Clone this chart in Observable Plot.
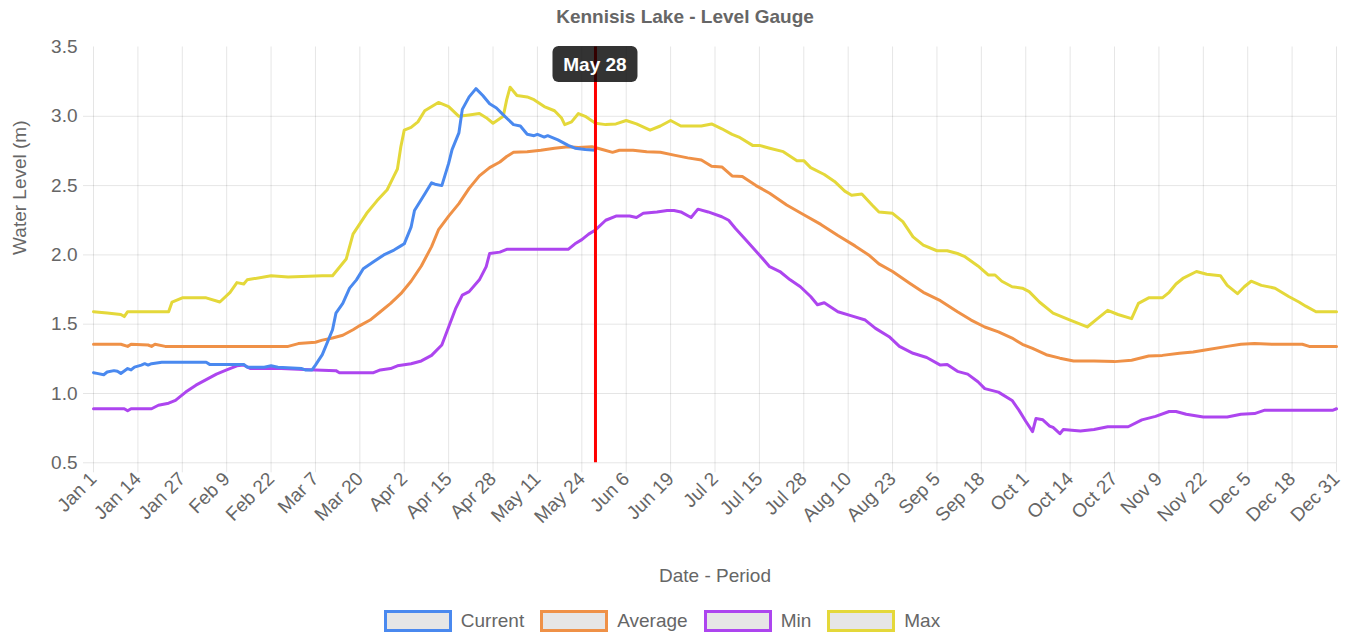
<!DOCTYPE html>
<html>
<head>
<meta charset="utf-8">
<script src="https://cdn.jsdelivr.net/npm/d3@7"></script>
<script src="https://cdn.jsdelivr.net/npm/@observablehq/plot@0.6"></script>
<style>
  html, body { margin: 0; padding: 0; background: #fff; }
  body { width: 1350px; height: 634px; overflow: hidden; position: relative;
         font-family: "Liberation Sans", Arial, sans-serif; color: #666; }
  #title { height: 34px; line-height: 34px; text-align: center; font-weight: bold;
           font-size: 19px; padding-left: 20px; box-sizing: border-box; }
  #chart svg { display: block; }
  #legend { position: absolute; top: 610px; left: 0; width: 1350px; padding-right: 26px;
            box-sizing: border-box; display: flex; justify-content: center; align-items: center;
            font-size: 19px; }
  .item { display: flex; align-items: center; margin: 0 8px; }
  .swatch { width: 68px; height: 22px; box-sizing: border-box; border: 3px solid; background: #e6e6e6; margin-right: 9px; }
</style>
</head>
<body>
<div id="title">Kennisis Lake - Level Gauge</div>
<div id="chart"></div>
<div id="legend"></div>
<script>
// ---- Data (day-of-year index, 0 = Jan 1) ----
const seriesNames = ["Current", "Average", "Min", "Max"];
const seriesColors = ["#4a89ef", "#ef9147", "#ad45ef", "#e4d83a"];

const currentDays = [0,1,3,4,6,7,8,10,11,12,14,15,16,17,20,33,34,44,45,50,52,54,61,62,64,65,67,68,70,71,73,75,77,79,82,85,88,90,91,93,94,97,99,100,102,104,105,107,108,110,112,114,116,118,120,123,125,127,129,130,132,133,136,139,141,144,147];
const currentLevels = [1.15,1.145,1.135,1.155,1.165,1.16,1.145,1.18,1.17,1.19,1.205,1.215,1.205,1.215,1.225,1.225,1.21,1.21,1.19,1.19,1.20,1.19,1.18,1.17,1.17,1.205,1.28,1.34,1.46,1.58,1.65,1.76,1.82,1.90,1.95,2.00,2.035,2.065,2.08,2.20,2.32,2.44,2.52,2.51,2.50,2.66,2.76,2.88,3.05,3.14,3.20,3.15,3.09,3.06,3.01,2.94,2.93,2.87,2.86,2.87,2.85,2.86,2.83,2.79,2.77,2.76,2.755];

const averageDays = [0,8,10,11,16,17,18,21,57,60,65,67,70,73,76,78,81,84,87,90,93,96,99,101,104,107,110,113,116,119,121,123,127,131,135,139,142,146,149,152,154,158,162,166,170,174,178,181,184,187,190,194,198,203,208,213,218,223,227,230,234,239,243,248,253,257,261,265,269,272,275,279,283,287,293,299,304,309,313,318,322,326,332,336,340,346,354,356,364];
const averageLevels = [1.355,1.355,1.34,1.355,1.35,1.34,1.355,1.34,1.34,1.36,1.37,1.385,1.40,1.42,1.46,1.49,1.53,1.59,1.65,1.72,1.81,1.92,2.06,2.18,2.28,2.37,2.48,2.57,2.63,2.67,2.71,2.74,2.745,2.755,2.77,2.78,2.775,2.78,2.76,2.74,2.755,2.755,2.745,2.74,2.72,2.70,2.685,2.64,2.635,2.57,2.565,2.50,2.445,2.36,2.29,2.22,2.14,2.065,2.00,1.935,1.88,1.795,1.73,1.67,1.59,1.53,1.48,1.445,1.40,1.355,1.325,1.28,1.255,1.235,1.235,1.23,1.24,1.27,1.275,1.29,1.30,1.315,1.34,1.355,1.36,1.355,1.355,1.34,1.34];

const minDays = [0,9,10,11,17,19,22,24,27,30,33,36,39,42,44,46,55,65,71,72,82,84,87,89,93,96,99,102,104,106,108,110,113,115,116,119,121,139,141,143,145,147,150,153,157,159,161,165,168,170,172,175,177,180,184,186,188,191,195,198,201,204,207,210,212,214,218,222,226,229,233,236,240,244,248,250,253,256,259,261,265,269,271,273,275,276,278,280,281,283,284,289,293,297,303,307,311,315,317,320,325,332,336,340,343,363,364];
const minLevels = [0.89,0.89,0.875,0.89,0.89,0.915,0.93,0.95,1.01,1.06,1.10,1.14,1.17,1.20,1.205,1.18,1.18,1.17,1.165,1.15,1.15,1.17,1.18,1.20,1.215,1.235,1.275,1.35,1.48,1.61,1.71,1.735,1.82,1.915,2.01,2.02,2.04,2.04,2.08,2.11,2.15,2.18,2.25,2.28,2.28,2.27,2.30,2.31,2.32,2.32,2.31,2.27,2.33,2.31,2.275,2.25,2.19,2.11,2.00,1.915,1.88,1.82,1.77,1.70,1.64,1.655,1.59,1.56,1.53,1.47,1.41,1.34,1.29,1.26,1.205,1.21,1.16,1.14,1.085,1.035,1.01,0.95,0.88,0.80,0.725,0.82,0.81,0.765,0.755,0.71,0.74,0.73,0.74,0.76,0.76,0.81,0.835,0.87,0.87,0.85,0.83,0.83,0.85,0.855,0.88,0.88,0.89];

const maxDays = [0,4,8,9,10,22,23,26,33,37,40,42,44,45,52,57,67,70,74,76,80,83,86,88,89,90,91,93,95,97,101,104,107,110,113,115,117,120,121,122,124,127,129,132,135,137,138,140,142,144,147,150,153,156,159,163,166,169,172,178,181,184,187,189,193,195,198,202,206,208,210,214,217,220,222,225,228,230,234,237,240,243,247,250,253,255,259,262,264,266,269,272,274,277,281,286,291,294,297,300,304,306,309,313,315,317,319,323,326,330,332,335,337,339,342,346,350,353,355,358,364];
const maxLevels = [1.59,1.58,1.57,1.555,1.59,1.59,1.66,1.69,1.69,1.66,1.73,1.80,1.79,1.82,1.85,1.84,1.85,1.85,1.97,2.15,2.30,2.39,2.47,2.57,2.62,2.78,2.90,2.92,2.96,3.04,3.10,3.07,3.00,3.01,3.02,2.99,2.95,3.00,3.12,3.21,3.15,3.14,3.12,3.07,3.04,2.99,2.94,2.96,3.02,3.00,2.95,2.94,2.945,2.97,2.945,2.90,2.93,2.97,2.93,2.93,2.945,2.91,2.87,2.85,2.79,2.79,2.77,2.745,2.68,2.68,2.63,2.58,2.53,2.46,2.43,2.44,2.36,2.31,2.30,2.24,2.13,2.07,2.03,2.03,2.01,1.99,1.92,1.855,1.855,1.81,1.77,1.76,1.735,1.66,1.58,1.53,1.48,1.54,1.60,1.57,1.54,1.65,1.69,1.69,1.73,1.79,1.83,1.88,1.86,1.85,1.78,1.72,1.77,1.81,1.78,1.76,1.70,1.66,1.63,1.59,1.59];

const tickLabels = ["Jan 1","Jan 14","Jan 27","Feb 9","Feb 22","Mar 7","Mar 20","Apr 2","Apr 15","Apr 28","May 11","May 24","Jun 6","Jun 19","Jul 2","Jul 15","Jul 28","Aug 10","Aug 23","Sep 5","Sep 18","Oct 1","Oct 14","Oct 27","Nov 9","Nov 22","Dec 5","Dec 18","Dec 31"];
const yTicks = [0.5, 1.0, 1.5, 2.0, 2.5, 3.0, 3.5];
const markerLabel = "May 28";
const yearRef = 2023;

// ---- Build ----
const toDate = d => new Date(Date.UTC(yearRef, 0, 1 + d));
const parseTick = d3.utcParse("%b %d %Y");
const tickDates = tickLabels.map(t => parseTick(t + " " + yearRef));
const markerDate = parseTick(markerLabel + " " + yearRef);
const fmt = d3.utcFormat("%b %-d");

const daysArr = [currentDays, averageDays, minDays, maxDays];
const levelsArr = [currentLevels, averageLevels, minLevels, maxLevels];
const tables = seriesNames.map((name, i) =>
  daysArr[i].map((d, j) => ({series: name, date: toDate(d), level: levelsArr[i][j]})));

const font = '"Liberation Sans", Arial, sans-serif';
const drawOrder = [3, 2, 1, 0];
const frameTop = 12.5;

const chart = Plot.plot({
  width: 1350,
  height: 566,
  marginLeft: 93,
  marginRight: 14,
  marginTop: frameTop,
  marginBottom: 137.7,
  style: {fontFamily: font, fontSize: "19px", color: "#666", background: "#fff", overflow: "visible"},
  x: {type: "utc", domain: [tickDates[0], tickDates[tickDates.length - 1]]},
  y: {domain: [yTicks[0], yTicks[yTicks.length - 1]]},
  marks: [
    Plot.gridX(tickDates, {stroke: "#000", strokeOpacity: 0.1}),
    Plot.gridY(yTicks.slice(0, -1), {stroke: "#000", strokeOpacity: 0.1}),
    Plot.axisX({ticks: tickDates, tickSize: 10, tickPadding: 3, tickRotate: -45,
      textAnchor: "end", lineAnchor: "middle", tickFormat: fmt, label: null,
      stroke: "#000", strokeOpacity: 0.1, fill: "#666"}),
    Plot.axisY({ticks: yTicks.slice(0, -1), tickSize: 10, text: null, label: null,
      stroke: "#000", strokeOpacity: 0.1}),
    Plot.axisY({ticks: yTicks, tickSize: 0, tickPadding: 16, tickFormat: d => d.toFixed(1),
      label: null, fill: "#666"}),
    Plot.text(["Water Level (m)"], {frameAnchor: "left", dx: -73.5, rotate: -90, fill: "#666", fontSize: 19}),
    Plot.text(["Date - Period"], {frameAnchor: "bottom", dy: 119, fill: "#666", fontSize: 19}),
    ...drawOrder.map(i => Plot.line(tables[i], {x: "date", y: "level", stroke: seriesColors[i], strokeWidth: 3})),
    Plot.ruleX([markerDate], {stroke: "#ff0000", strokeWidth: 3})
  ]
});
document.getElementById("chart").appendChild(chart);

// tooltip box at the marker date, positioned through Plot's x scale
const sx = chart.scale("x");
const xApply = sx.apply ? sx.apply : d3.scaleUtc().domain(sx.domain).range(sx.range);
const mx = xApply(markerDate);
const g = d3.select(chart).append("g");
g.append("rect").attr("x", mx - 42.5).attr("y", frameTop - 0.5).attr("width", 85).attr("height", 36)
  .attr("rx", 6).attr("fill", "#000").attr("fill-opacity", 0.8);
g.append("text").attr("x", mx).attr("y", frameTop + 17.5).attr("text-anchor", "middle")
  .attr("dominant-baseline", "central").attr("fill", "#fff").attr("font-weight", "bold")
  .attr("font-size", 19).attr("font-family", font).text(fmt(markerDate));

// legend
const legend = d3.select("#legend");
seriesNames.forEach((name, i) => {
  const it = legend.append("div").attr("class", "item");
  it.append("div").attr("class", "swatch").style("border-color", seriesColors[i]);
  it.append("span").text(name);
});
</script>
</body>
</html>
